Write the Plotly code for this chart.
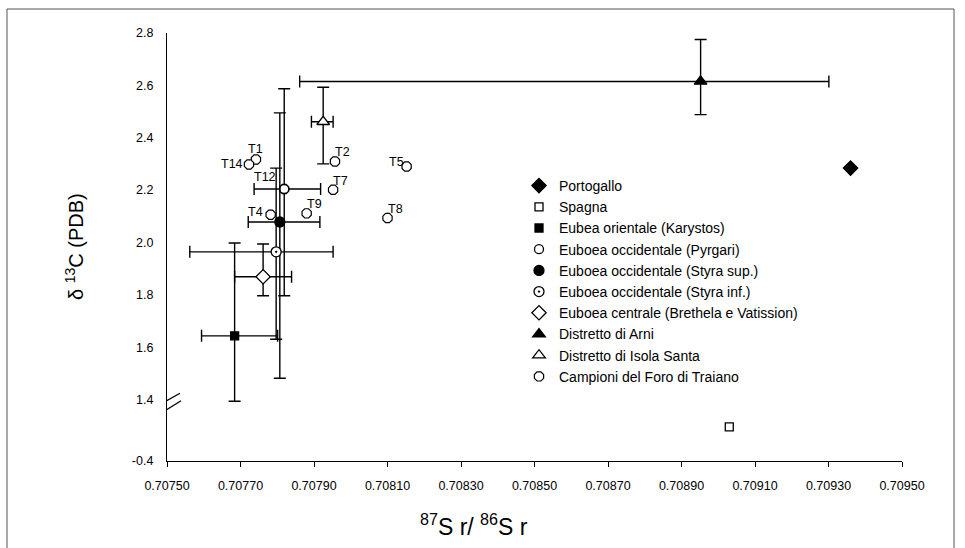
import plotly.graph_objects as go

# ---------------- data ----------------
GROUPS = ["Portogallo", "Spagna", "Eubea orientale (Karystos)",
          "Euboea occidentale (Pyrgari)", "Euboea occidentale (Styra sup.)",
          "Euboea occidentale (Styra inf.)", "Euboea centrale (Brethela e Vatission)",
          "Distretto di Arni", "Distretto di Isola Santa"]
SR = [0.70936, 0.70903, 0.707684, 0.707819, 0.707807, 0.707797, 0.7077615, 0.708952, 0.707925]
D13C = [2.284, -0.27, 1.643, 2.204, 2.078, 1.964, 1.869, 2.615, 2.461]
SR_ERR_PLUS = [0, 0, 0.000117, 0.000099, 0.000109, 0.000155, 0.0000775, 0.000349, 0.000027]
SR_ERR_MINUS = [0, 0, 0.00009, 0.000082, 0.000086, 0.000235, 0.0000775, 0.001091, 0.000032]
D13C_ERR_PLUS = [0, 0, 0.355, 0.383, 0.417, 0.32, 0.125, 0.16, 0.132]
D13C_ERR_MINUS = [0, 0, 0.25, 0.408, 0.597, 0.334, 0.073, 0.127, 0.161]

CAMPIONI_NAME = "Campioni del Foro di Traiano"
T_LABELS = ["T1", "T14", "T12", "T4", "T9", "T2", "T7", "T5", "T8"]
T_SR = [0.707742, 0.707723, 0.707819, 0.707782, 0.707880, 0.707957, 0.707952, 0.708152, 0.708100]
T_D13C = [2.317, 2.298, 2.204, 2.106, 2.111, 2.309, 2.201, 2.290, 2.093]

X_TICKS = [0.7075, 0.7077, 0.7079, 0.7081, 0.7083, 0.7085, 0.7087, 0.7089, 0.7091, 0.7093, 0.7095]
X_TICK_TEXT = ["0.70750", "0.70770", "0.70790", "0.70810", "0.70830", "0.70850",
               "0.70870", "0.70890", "0.70910", "0.70930", "0.70950"]
Y_TICKS = [-0.4, 1.4, 1.6, 1.8, 2.0, 2.2, 2.4, 2.6, 2.8]
Y_TICK_TEXT = ["-0.4", "1.4", "1.6", "1.8", "2.0", "2.2", "2.4", "2.6", "2.8"]

# ---------------- broken y axis scale ----------------
Y_AXIS_LOW = -0.4          # value at the bottom of the axis (below the break)
Y_AXIS_LOW_DISPLAY = 1.165  # display position of the bottom of the axis
Y_BREAK = 1.3
Y_TOP = 2.8


def to_display(v):
    return v if v >= Y_BREAK else v + (Y_AXIS_LOW_DISPLAY - Y_AXIS_LOW)


# ---------------- styles ----------------
BLACK = "#000000"
WHITE = "#ffffff"
STYLES = [
    dict(symbol="diamond", size=11, color=BLACK),
    dict(symbol="square", size=8, color=WHITE),
    dict(symbol="square", size=8, color=BLACK),
    dict(symbol="circle", size=9, color=WHITE),
    dict(symbol="circle", size=10, color=BLACK),
    dict(symbol="circle-dot", size=10, color=WHITE),
    dict(symbol="diamond", size=11, color=WHITE),
    dict(symbol="triangle-up", size=11, color=BLACK),
    dict(symbol="triangle-up", size=11, color=WHITE),
]
LABEL_SHIFT = {"T1": (0, 10), "T14": (-17, 0), "T12": (-19, 12), "T4": (-15, 3),
               "T9": (8, 9), "T2": (8, 10), "T7": (7, 9), "T5": (-10, 5), "T8": (8, 9)}
FONT = "Liberation Sans, Arial, sans-serif"

fig = go.Figure()

fig.add_trace(go.Scatter(
    x=T_SR, y=[to_display(v) for v in T_D13C], mode="markers", name=CAMPIONI_NAME,
    marker=dict(symbol="octagon", size=10, color=WHITE, line=dict(color=BLACK, width=1.2)),
    legendrank=1100,
))

for i, name in enumerate(GROUPS):
    st = STYLES[i]
    has_err = SR_ERR_PLUS[i] > 0 or SR_ERR_MINUS[i] > 0
    y_disp = to_display(D13C[i])
    fig.add_trace(go.Scatter(
        x=[SR[i]], y=[y_disp], mode="markers", name=name, legendrank=1000 + i,
        marker=dict(symbol=st["symbol"], size=st["size"], color=st["color"],
                    line=dict(color=BLACK, width=1.3)),
        error_x=dict(type="data", symmetric=False, array=[SR_ERR_PLUS[i]],
                     arrayminus=[SR_ERR_MINUS[i]], color=BLACK, thickness=1.4,
                     width=6, visible=has_err),
        error_y=dict(type="data", symmetric=False, array=[D13C_ERR_PLUS[i]],
                     arrayminus=[D13C_ERR_MINUS[i]], color=BLACK, thickness=1.4,
                     width=6, visible=has_err),
    ))

for lab, xv, yv in zip(T_LABELS, T_SR, T_D13C):
    dx, dy = LABEL_SHIFT[lab]
    fig.add_annotation(x=xv, y=to_display(yv), text=lab, showarrow=False,
                       xshift=dx, yshift=dy, font=dict(family=FONT, size=12.5, color=BLACK))

y_range = [Y_AXIS_LOW_DISPLAY, Y_TOP]
x_range = [X_TICKS[0], X_TICKS[-1]]
y_tickvals = [to_display(v) for v in Y_TICKS]
tick_marks_y = [to_display(v) for v in Y_TICKS if v > 1.45]

fig.update_layout(
    width=965, height=548,
    margin=dict(l=167, r=63, t=33, b=87),
    paper_bgcolor=WHITE, plot_bgcolor=WHITE,
    font=dict(family=FONT, color=BLACK),
    showlegend=True,
    legend=dict(x=(519 - 167) / 735, y=(461 - 170) / 428, xanchor="left", yanchor="top",
                bgcolor="rgba(0,0,0,0)", font=dict(family=FONT, size=14, color=BLACK),
                itemwidth=30, tracegroupgap=0, traceorder="normal"),
    xaxis=dict(range=x_range, tickvals=X_TICKS, ticktext=X_TICK_TEXT,
               showgrid=False, zeroline=False, showline=True, linecolor=BLACK, linewidth=1.3,
               ticks="outside", ticklen=5, tickwidth=1.3, tickcolor=BLACK,
               ticklabelstandoff=8, tickfont=dict(family=FONT, size=12.5)),
    yaxis=dict(range=y_range, tickvals=y_tickvals, ticktext=Y_TICK_TEXT,
               showgrid=False, zeroline=False, showline=True, linecolor=BLACK, linewidth=1.3,
               ticks="outside", ticklen=5, tickcolor="rgba(0,0,0,0)",
               ticklabelstandoff=5, tickfont=dict(family=FONT, size=12.5)),
    xaxis2=dict(overlaying="x", anchor="y", side="bottom", range=x_range, tickvals=X_TICKS,
                showticklabels=False, showgrid=False, zeroline=False, showline=False,
                ticks="inside", ticklen=5, tickwidth=1.3, tickcolor=BLACK),
    yaxis2=dict(overlaying="y", anchor="x", side="left", range=y_range, tickvals=tick_marks_y,
                showticklabels=False, showgrid=False, zeroline=False, showline=False,
                ticks="outside", ticklen=5, tickwidth=1.3, tickcolor=BLACK),
    yaxis3=dict(overlaying="y", anchor="x", side="left", range=y_range, tickvals=tick_marks_y,
                showticklabels=False, showgrid=False, zeroline=False, showline=False,
                ticks="inside", ticklen=5, tickwidth=1.3, tickcolor=BLACK),
)

# axis titles
fig.add_annotation(xref="paper", yref="paper", x=(74 - 167) / 735, y=0.5,
                   text="δ <sup>13</sup>C (PDB)", textangle=-90, showarrow=False,
                   xanchor="center", yanchor="middle",
                   font=dict(family=FONT, size=20, color=BLACK))
fig.add_annotation(xref="paper", yref="paper", x=(474 - 167) / 735, y=(461 - 525) / 428,
                   text="<sup>87</sup>S r/ <sup>86</sup>S r", showarrow=False,
                   xanchor="center", yanchor="middle",
                   font=dict(family=FONT, size=23, color=BLACK))

# axis break marks
common = dict(xref="x", yref="y", xsizemode="pixel", ysizemode="pixel",
              xanchor=X_TICKS[0], yanchor=Y_AXIS_LOW_DISPLAY, layer="above")
fig.add_shape(type="path", path="M-11,54.3 L13,67.7 L14,60.3 L-7.7,46.7 Z",
              fillcolor=WHITE, line=dict(width=0), **common)
fig.add_shape(type="line", x0=-11, y0=54.3, x1=13, y1=67.7,
              line=dict(color=BLACK, width=1.3), **common)
fig.add_shape(type="line", x0=-7.7, y0=46.7, x1=14, y1=60.3,
              line=dict(color=BLACK, width=1.3), **common)

# outer frame
fig.add_shape(type="rect", xref="paper", yref="paper",
              x0=(7 - 167) / 735, x1=(954 - 167) / 735,
              y0=(461 - 570) / 428, y1=(461 - 9) / 428,
              line=dict(color="#555555", width=1), fillcolor="rgba(0,0,0,0)", layer="below")

fig.write_html("out.html")
